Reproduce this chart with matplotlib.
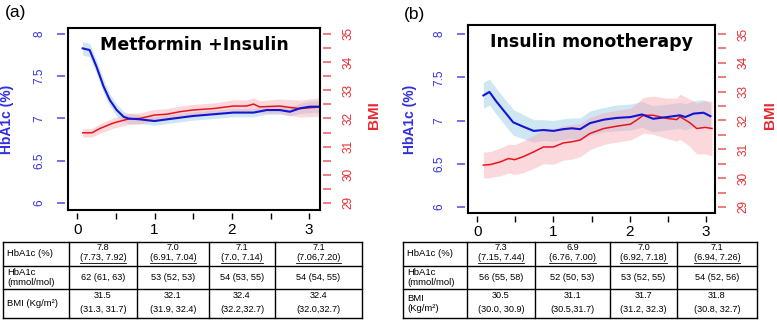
import numpy as np
import matplotlib
matplotlib.use("Agg")
import matplotlib.pyplot as plt

plt.rcParams['font.family'] = ['Liberation Sans', 'DejaVu Sans']

# ---- panel (a): Metformin + Insulin ----
xa_hb = [0.07, 0.16, 0.25, 0.34, 0.42, 0.51, 0.60, 0.66, 0.81, 1.00, 1.16, 1.33,
         1.50, 1.76, 2.02, 2.28, 2.45, 2.62, 2.75, 2.88, 3.01, 3.14]
hb_a = [7.83, 7.81, 7.61, 7.38, 7.22, 7.10, 7.02, 7.00, 6.99, 6.97, 6.99, 7.01,
        7.03, 7.05, 7.07, 7.07, 7.10, 7.10, 7.08, 7.12, 7.14, 7.14]
hb_a_err = [0.08, 0.08, 0.08, 0.08, 0.07, 0.07, 0.06, 0.06, 0.05, 0.05, 0.05, 0.05,
            0.05, 0.05, 0.05, 0.05, 0.05, 0.05, 0.05, 0.06, 0.07, 0.07]
xa_bmi = [0.07, 0.19, 0.29, 0.47, 0.66, 0.81, 1.00, 1.16, 1.33, 1.50, 1.76, 2.02,
          2.19, 2.28, 2.36, 2.62, 2.75, 2.88, 3.14]
bmi_a = [31.49, 31.49, 31.64, 31.84, 31.98, 32.00, 32.12, 32.15, 32.24, 32.30, 32.35,
         32.44, 32.44, 32.51, 32.41, 32.44, 32.39, 32.35, 32.41]
bmi_a_err = [0.15, 0.15, 0.17, 0.18, 0.20, 0.20, 0.20, 0.20, 0.20, 0.20, 0.20, 0.22,
             0.22, 0.22, 0.22, 0.25, 0.28, 0.30, 0.33]

# ---- panel (b): Insulin monotherapy ----
xb_hb = [0.08, 0.16, 0.25, 0.36, 0.47, 0.60, 0.74, 0.87, 1.00, 1.13, 1.24, 1.35,
         1.48, 1.66, 1.83, 2.01, 2.16, 2.31, 2.49, 2.66, 2.73, 2.84, 2.97, 3.06]
hb_b = [7.29, 7.33, 7.22, 7.10, 6.98, 6.93, 6.88, 6.89, 6.88, 6.90, 6.91, 6.90,
        6.97, 7.01, 7.03, 7.04, 7.07, 7.02, 7.04, 7.06, 7.04, 7.08, 7.09, 7.05]
hb_b_err = [0.15, 0.15, 0.15, 0.15, 0.15, 0.14, 0.13, 0.12, 0.12, 0.12, 0.12, 0.13,
            0.14, 0.14, 0.15, 0.15, 0.15, 0.15, 0.15, 0.15, 0.15, 0.15, 0.15, 0.15]
xb_bmi = [0.08, 0.17, 0.30, 0.41, 0.49, 0.60, 0.74, 0.87, 1.00, 1.13, 1.24, 1.35,
          1.48, 1.66, 1.83, 2.01, 2.09, 2.18, 2.31, 2.49, 2.62, 2.66, 2.79, 2.88,
          2.99, 3.08]
bmi_b = [30.45, 30.47, 30.56, 30.68, 30.64, 30.74, 30.91, 31.08, 31.08, 31.22, 31.26,
         31.32, 31.55, 31.72, 31.80, 31.87, 32.01, 32.18, 32.18, 32.07, 32.03, 32.13,
         31.92, 31.72, 31.76, 31.72]
bmi_b_err = [0.45, 0.45, 0.48, 0.50, 0.52, 0.55, 0.57, 0.58, 0.60, 0.60, 0.60, 0.58,
             0.56, 0.55, 0.55, 0.55, 0.58, 0.62, 0.66, 0.70, 0.75, 0.78, 0.82, 0.88,
             0.92, 0.95]

# ---- tables ----
row_labels_a = ["HbA1c (%)", "HbA1c\n(mmol/mol)", "BMI (Kg/m²)"]
row_labels_b = ["HbA1c (%)", "HbA1c\n(mmol/mol)", "BMI\n(Kg/m²)"]
pct_a = ["7.8", "7.0", "7.1", "7.1"]
pct_ci_a = ["(7.73, 7.92)", "(6.91, 7.04)", "(7.0, 7.14)", "(7.06,7.20)"]
mmol_a = ["62 (61, 63)", "53 (52, 53)", "54 (53, 55)", "54 (54, 55)"]
bmi_tab_a = ["31.5", "32.1", "32.4", "32.4"]
bmi_ci_a = ["(31.3, 31.7)", "(31.9, 32.4)", "(32.2,32.7)", "(32.0,32.7)"]
pct_b = ["7.3", "6.9", "7.0", "7.1"]
pct_ci_b = ["(7.15, 7.44)", "(6.76, 7.00)", "(6.92, 7.18)", "(6.94, 7.26)"]
mmol_b = ["56 (55, 58)", "52 (50, 53)", "53 (52, 55)", "54 (52, 56)"]
bmi_tab_b = ["30.5", "31.1", "31.7", "31.8"]
bmi_ci_b = ["(30.0, 30.9)", "(30.5,31.7)", "(31.2, 32.3)", "(30.8, 32.7)"]

BLUE = "#1414d2"
BLUE_TXT = "#2f2fe0"
RED = "#e8141c"
RED_TXT = "#e82a30"

W, H = 777, 321
fig = plt.figure(figsize=(W / 100, H / 100), dpi=100)

# overlay in pixel coords for the tables and panel letters
tab = fig.add_axes([0, 0, 1, 1], zorder=-5)
tab.set_xlim(0, W)
tab.set_ylim(H, 0)
tab.axis("off")


def panel(box, xlim, hb_lim, bmi_lim, title, xh, yh, eh, xb, yb, eb, lab_x, bmi_x):
    l, r, t, b = box
    rect = [l / W, 1 - b / H, (r - l) / W, (b - t) / H]
    ax = fig.add_axes(rect)
    ax2 = ax.twinx()
    ax3 = ax2.twinx()
    # twinx moved ax2's axis to the left; put it back on the right
    ax2.yaxis.tick_right()
    ax2.yaxis.set_label_position("right")
    ax.yaxis.tick_left()
    for a in (ax, ax2, ax3):
        a.set_xlim(*xlim)
        a.patch.set_visible(False)
        for s in a.spines.values():
            s.set_visible(False)
    ax.set_ylim(*hb_lim)
    ax3.set_ylim(*hb_lim)
    ax2.set_ylim(*bmi_lim)

    yh, eh = np.array(yh), np.array(eh)
    yb, eb = np.array(yb), np.array(eb)
    ax.fill_between(xh, yh - eh, yh + eh, color="#a9d3ea", alpha=0.55, lw=0)
    ax2.fill_between(xb, yb - eb, yb + eb, color="#f7a9b3", alpha=0.45, lw=0)
    ax2.plot(xb, yb, color=RED, lw=1.1)
    ax3.plot(xh, yh, color=BLUE, lw=1.5)

    # frame
    for s in ax3.spines.values():
        s.set_visible(True)
        s.set_linewidth(1.5)
        s.set_color("black")
    ax3.set_yticks([])
    ax3.tick_params(bottom=False, labelbottom=False, left=False, right=False)

    # x axis
    ax.spines["bottom"].set_position(("outward", 2))
    ax.set_xticks([0, 0.5, 1, 1.5, 2, 2.5, 3])
    ax.set_xticklabels(["0", "", "1", "", "2", "", "3"])
    ax.tick_params(axis="x", length=4.5, width=1, pad=2.5, labelsize=11, color="black")

    # left HbA1c axis
    ax.spines["left"].set_position(("outward", 2.5))
    ax.set_yticks([6, 6.5, 7, 7.5, 8])
    ax.set_yticklabels(["6", "6.5", "7", "7.5", "8"])
    ax.tick_params(axis="y", length=6, width=1.1, color="#4a4ae0", labelcolor=BLUE_TXT,
                   labelsize=8.5, pad=8)
    for lbl in ax.get_yticklabels():
        lbl.set_rotation(90)
        lbl.set_va("center")
    ax.set_ylabel("HbA1c (%)", color=BLUE_TXT, fontsize=10, fontweight="bold")
    ax.yaxis.set_label_coords(lab_x, 0.5)

    # right BMI axis
    ax2.spines["right"].set_position(("outward", 2.5))
    ax2.set_yticks([29, 30, 31, 32, 33, 34, 35])
    ax2.set_yticks([29.5, 30.5, 31.5, 32.5, 33.5, 34.5], minor=True)
    ax2.tick_params(axis="y", which="both", length=6, width=1.1, color="#e85a60",
                    labelcolor=RED_TXT, labelsize=8.5, pad=7.5)
    for lbl in ax2.get_yticklabels():
        lbl.set_rotation(90)
        lbl.set_va("center")
    ax2.set_ylabel("BMI", color=RED_TXT, fontsize=11, fontweight="bold", rotation=90)
    ax2.yaxis.set_label_coords(bmi_x, 0.52)

    ax3.text(0.5, 0.955, title, transform=ax3.transAxes, ha="center", va="top",
             fontsize=12.5, fontweight="bold", family="DejaVu Sans")
    return ax


panel((68, 320, 28, 210), (-0.12, 3.14), (5.917, 8.071), (28.75, 35.21),
      "Metformin +Insulin", xa_hb, hb_a, hb_a_err, xa_bmi, bmi_a, bmi_a_err,
      -0.214, 1.187)
panel((468, 715, 25, 213), (-0.122, 3.12), (5.931, 8.104), (28.79, 35.31),
      "Insulin monotherapy", xb_hb, hb_b, hb_b_err, xb_bmi, bmi_b, bmi_b_err,
      -0.206, 1.194)

tab.text(5, 12, "(a)", fontsize=12.5, va="center", ha="left")
tab.text(404, 14, "(b)", fontsize=12.5, va="center", ha="left")

rows = [242, 266, 289, 318]
underlined = []


def draw_table(cols, row_labels, pct, pct_ci, mmol, bmi_v, bmi_ci):
    for y in rows:
        tab.plot([cols[0], cols[-1]], [y, y], color="black", lw=1)
    for x in cols:
        tab.plot([x, x], [rows[0], rows[-1]], color="black", lw=1)
    lab_y = [(rows[0] + rows[1]) / 2, (rows[1] + rows[2]) / 2, (rows[2] + rows[3]) / 2]
    for lbl, y in zip(row_labels, lab_y):
        tab.text(cols[0] + 4, y, lbl, fontsize=6.8, ha="left", va="center",
                 linespacing=1.1)
    for i in range(4):
        cx = (cols[i + 1] + cols[i + 2]) / 2
        tab.text(cx, 247.5, pct[i], fontsize=6.6, ha="center", va="center")
        t = tab.text(cx, 258, pct_ci[i], fontsize=6.6, ha="center", va="center")
        underlined.append(t)
        tab.text(cx, 278, mmol[i], fontsize=6.6, ha="center", va="center")
        tab.text(cx, 296, bmi_v[i], fontsize=6.6, ha="center", va="center")
        tab.text(cx, 309.5, bmi_ci[i], fontsize=6.6, ha="center", va="center")


draw_table([3, 69, 137, 209, 275, 362], row_labels_a, pct_a, pct_ci_a, mmol_a,
           bmi_tab_a, bmi_ci_a)
draw_table([403, 467, 535, 610, 677, 757], row_labels_b, pct_b, pct_ci_b, mmol_b,
           bmi_tab_b, bmi_ci_b)

# underline the CI line of the first row
fig.canvas.draw()
renderer = fig.canvas.get_renderer()
inv = tab.transData.inverted()
for t in underlined:
    bb = t.get_window_extent(renderer)
    (x0, _), (x1, _) = inv.transform([[bb.x0, bb.y0], [bb.x1, bb.y0]])
    tab.plot([x0, x1], [263.3, 263.3], color="black", lw=0.6)

fig.savefig("out.png", dpi=100)
